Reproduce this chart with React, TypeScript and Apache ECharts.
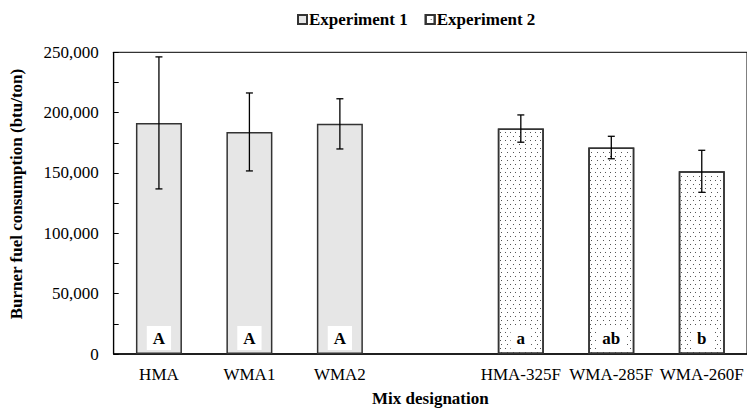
import React, { useEffect, useRef } from "react";
import * as echarts from "echarts";

// Mix designations (blank slot separates the two experiments)
const categories = ["HMA", "WMA1", "WMA2", "", "HMA-325F", "WMA-285F", "WMA-260F"];

// Mean burner fuel consumption (btu/ton)
const exp1Values: (number | string)[] = [191500, 184000, 190700, "-", "-", "-", "-"];
const exp2Values: (number | string)[] = ["-", "-", "-", "-", 186800, 171100, 151400];

// Error bar half-lengths (btu/ton)
const exp1Errors: (number | null)[] = [54700, 32300, 20800, null, null, null, null];
const exp2Errors: (number | null)[] = [null, null, null, null, 11300, 9300, 17400];

// Statistical grouping letters
const exp1Letters = ["A", "A", "A", "", "", "", ""];
const exp2Letters = ["", "", "", "", "a", "ab", "b"];

const yTicks = { min: 0, max: 250000, interval: 50000 };

const FONT = "'Liberation Serif', 'Times New Roman', serif";

function errorSeries(values: (number | string)[], errors: (number | null)[]) {
  const data = values
    .map((v, i) => (typeof v === "number" && errors[i] != null ? [i, v - (errors[i] as number), v + (errors[i] as number)] : null))
    .filter((d) => d !== null);
  return {
    type: "custom",
    silent: true,
    z: 5,
    data,
    renderItem: (params: any, api: any) => {
      const x = api.value(0);
      const lo = api.coord([x, api.value(1)]);
      const hi = api.coord([x, api.value(2)]);
      const cap = 3.5;
      const style = { stroke: "#000", lineWidth: 1.3 };
      return {
        type: "group",
        children: [
          { type: "line", shape: { x1: lo[0], y1: lo[1], x2: hi[0], y2: hi[1] }, style },
          { type: "line", shape: { x1: hi[0] - cap, y1: hi[1], x2: hi[0] + cap, y2: hi[1] }, style },
          { type: "line", shape: { x1: lo[0] - cap, y1: lo[1], x2: lo[0] + cap, y2: lo[1] }, style },
        ],
      };
    },
  };
}

function letterLabel(letters: string[]) {
  return {
    show: true,
    position: "insideBottom",
    distance: 4,
    formatter: (p: any) => letters[p.dataIndex] || "",
    backgroundColor: "#fff",
    padding: [4, 6, 3, 6],
    color: "#000",
    fontFamily: FONT,
    fontWeight: "bold",
    fontSize: 17,
  };
}

export default function App() {
  const ref = useRef<HTMLDivElement>(null);

  useEffect(() => {
    if (!ref.current) return;
    const chart = echarts.init(ref.current, undefined, { renderer: "svg" });
    chart.setOption({
      animation: false,
      backgroundColor: "#fff",
      textStyle: { fontFamily: FONT, color: "#000" },
      legend: {
        top: 6,
        left: 292,
        itemWidth: 9,
        itemHeight: 9,
        itemGap: 17,
        textStyle: { fontFamily: FONT, fontWeight: "bold", fontSize: 17, color: "#000", padding: [0, 0, 0, -3] },
        data: [
          { name: "Experiment 1", icon: "rect" },
          { name: "Experiment 2", icon: "rect" },
        ],
      },
      grid: {
        left: 113.7,
        top: 52.3,
        width: 639,
        height: 303.4,
        show: true,
        borderColor: "#000",
        borderWidth: 1,
        backgroundColor: "transparent",
      },
      xAxis: {
        type: "category",
        data: categories,
        axisLine: { lineStyle: { color: "#000", width: 1.5 } },
        axisTick: { show: false },
        axisLabel: { fontFamily: FONT, fontSize: 17, color: "#000", margin: 12, interval: 0 },
        name: "Mix designation",
        nameLocation: "middle",
        nameGap: 36,
        nameTextStyle: { fontFamily: FONT, fontWeight: "bold", fontSize: 17, color: "#000" },
      },
      yAxis: {
        type: "value",
        min: yTicks.min,
        max: yTicks.max,
        interval: yTicks.interval,
        axisLine: { show: true, lineStyle: { color: "#000", width: 1.2 } },
        axisTick: { show: true, inside: true, length: 5, lineStyle: { color: "#000" } },
        minorTick: { show: true, splitNumber: 2, length: 5, lineStyle: { color: "#000" } },
        splitLine: { show: false },
        axisLabel: {
          fontFamily: FONT,
          fontSize: 17,
          color: "#000",
          margin: 15,
          formatter: (v: number) => v.toLocaleString("en-US"),
        },
      },
      graphic: [
        {
          type: "text",
          x: 16,
          y: 194,
          rotation: Math.PI / 2,
          style: {
            text: "Burner fuel consumption (btu/ton)",
            textAlign: "center",
            textVerticalAlign: "middle",
            font: `bold 17px ${FONT}`,
            fill: "#000",
          },
        },
      ],
      series: [
        {
          name: "Experiment 1",
          type: "bar",
          stack: "mix",
          barWidth: 46,
          data: exp1Values,
          itemStyle: { color: "#e6e6e6", borderColor: "#333", borderWidth: 1.5 },
          label: letterLabel(exp1Letters),
        },
        {
          name: "Experiment 2",
          type: "bar",
          stack: "mix",
          barWidth: 46,
          data: exp2Values,
          itemStyle: {
            color: "#fff",
            borderColor: "#333",
            borderWidth: 1.5,
            decal: {
              symbol: "rect",
              symbolSize: 1,
              color: "#555",
              dashArrayX: [
                [1, 4],
                [0, 2.5, 1, 1.5],
              ],
              dashArrayY: [1, 2.3],
              rotation: 0,
            },
          },
          label: letterLabel(exp2Letters),
        },
        errorSeries(exp1Values, exp1Errors),
        errorSeries(exp2Values, exp2Errors),
      ],
    });
    return () => chart.dispose();
  }, []);

  return <div ref={ref} style={{ position: "absolute", left: 0, top: 0, width: 747, height: 412 }} />;
}
